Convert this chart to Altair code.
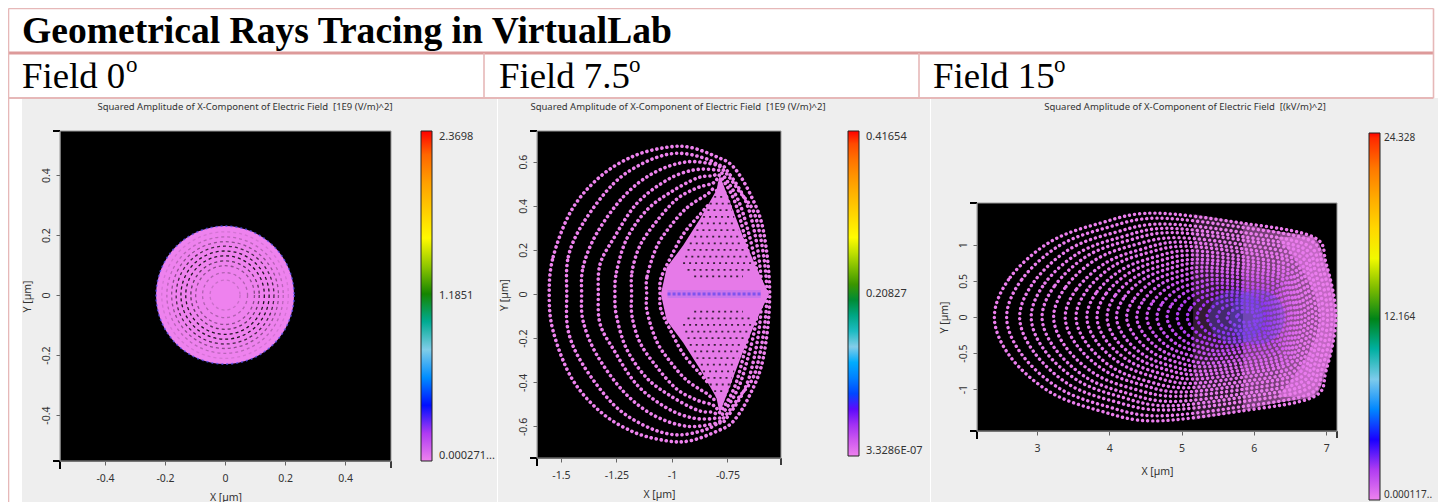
import altair as alt
import pandas as pd

W, H = 1430, 494
SANS = "Noto Sans"
SERIF = "Liberation Serif"
PINK = "#e6b8b8"
PINK_DARK = "#dd9a9a"
VIOLET = "#e67ae8"

HEADING = "Geometrical Rays Tracing in VirtualLab"
FIELD_LABELS = ["Field 0", "Field 7.5", "Field 15"]
TITLES = [
    "Squared Amplitude of X-Component of Electric Field \u00a0[1E9 (V/m)^2]",
    "Squared Amplitude of X-Component of Electric Field \u00a0[1E9 (V/m)^2]",
    "Squared Amplitude of X-Component of Electric Field \u00a0[(kV/m)^2]",
]
STOP_COLORS = ["violet", "blue", "skyblue", "green", "yellow", "orange", "red"]

# ---- panel 1 -------------------------------------------------------------
P1_XDOM = [-0.55, 0.553]
P1_YDOM = [-0.553, 0.547]
P1_TICKS = [-0.4, -0.2, 0, 0.2, 0.4]
P1_STOPS = [0.000271, 0.3952, 0.7901, 1.1851, 1.5800, 1.9749, 2.3698]
P1_LEGEND = [0.000271, 1.1851, 2.3698]
P1_DISC_R = 0.23
P1_RINGS_R = [0.05, 0.075, 0.098, 0.114, 0.131, 0.147, 0.163, 0.178, 0.194, 0.211]
P1_RINGS_DARK = [0.15, 0.25, 0.4, 0.6, 0.85, 0.85, 0.7, 0.4, 0.22, 0.1]

# ---- panel 2: upper half of each ring, left tip to right tip -------------
P2_XDOM = [-1.608, -0.509]
P2_YDOM = [-0.743, 0.739]
P2_XTICKS = [-1.5, -1.25, -1, -0.75]
P2_YTICKS = [-0.6, -0.4, -0.2, 0, 0.2, 0.4, 0.6]
P2_STOPS = [3.3286e-07, 0.06942, 0.13885, 0.20827, 0.27769, 0.34712, 0.41654]
P2_LEGEND = [3.3286e-07, 0.20827, 0.41654]
P2_RING_X = [
    [-1.553, -1.535, -1.452, -1.324, -1.174, -1.024, -0.919, -0.799, -0.724, -0.649, -0.589, -0.56],
    [-1.474, -1.467, -1.40, -1.264, -1.13, -0.995, -0.874, -0.784, -0.70, -0.619, -0.573],
    [-1.407, -1.40, -1.339, -1.219, -1.085, -0.934, -0.799, -0.754, -0.649, -0.596],
    [-1.332, -1.324, -1.264, -1.159, -1.024, -0.904, -0.80, -0.77, -0.68, -0.61],
    [-1.257, -1.25, -1.204, -1.114, -1.009, -0.889, -0.82, -0.78, -0.70, -0.635],
    [-1.182, -1.18, -1.144, -1.069, -0.979, -0.889, -0.82, -0.79, -0.724, -0.656],
    [-1.114, -1.112, -1.069, -1.009, -0.934, -0.844, -0.80, -0.735, -0.68],
    [-1.054, -1.05, -1.009, -0.95, -0.874, -0.82, -0.77, -0.72],
]
P2_RING_Y = [
    [0, 0.169, 0.381, 0.532, 0.625, 0.665, 0.665, 0.622, 0.577, 0.456, 0.29, 0],
    [0, 0.169, 0.322, 0.5, 0.593, 0.637, 0.622, 0.577, 0.47, 0.335, 0],
    [0, 0.124, 0.275, 0.441, 0.548, 0.599, 0.585, 0.562, 0.367, 0],
    [0, 0.135, 0.25, 0.41, 0.516, 0.562, 0.562, 0.54, 0.367, 0],
    [0, 0.10, 0.25, 0.38, 0.46, 0.525, 0.535, 0.53, 0.367, 0],
    [0, 0.10, 0.22, 0.33, 0.43, 0.48, 0.50, 0.51, 0.35, 0],
    [0, 0.08, 0.214, 0.305, 0.39, 0.45, 0.47, 0.33, 0],
    [0, 0.07, 0.16, 0.27, 0.36, 0.41, 0.36, 0],
]
P2_DIAMOND_X = [-1.05, -1.024, -0.95, -0.874, -0.80, -0.785, -0.74, -0.68, -0.62, -0.563]
P2_DIAMOND_Y = [0, 0.12, 0.22, 0.34, 0.47, 0.54, 0.42, 0.26, 0.12, 0]
P2_ROW_Y = [0.44, 0.41, 0.38, 0.35, 0.32, 0.29, 0.26, 0.23, 0.20, 0.17, 0.14, 0.11, 0.08]
P2_ROW_X1 = [-0.81, -0.83, -0.84, -0.86, -0.87, -0.89, -0.90, -0.92, -0.93, -0.94, -0.95, -0.93, -0.90]
P2_ROW_X2 = [-0.76, -0.74, -0.73, -0.72, -0.71, -0.70, -0.69, -0.68, -0.66, -0.65, -0.64, -0.65, -0.68]
P2_STRIP_X = [-1.02, -0.60]

# ---- panel 3: upper half of each ring, left tip to right tip -------------
P3_XDOM = [2.17, 7.15]
P3_YDOM = [-1.58, 1.58]
P3_XTICKS = [3, 4, 5, 6, 7]
P3_YTICKS = [-1, -0.5, 0, 0.5, 1]
P3_STOPS = [0.000117, 4.0548, 8.1094, 12.164, 16.2186, 20.2733, 24.328]
P3_LEGEND = [0.000117, 12.164, 24.328]
P3_RING_X = [
    [2.41, 2.63, 3.18, 3.87, 4.61, 5.85, 6.82, 7.00, 7.135],
    [2.58, 2.79, 3.31, 3.97, 4.67, 5.85, 6.78, 6.95, 7.08],
    [2.76, 2.96, 3.45, 4.07, 4.74, 5.86, 6.73, 6.90, 7.02],
    [2.92, 3.11, 3.58, 4.17, 4.80, 5.86, 6.69, 6.85, 6.96],
    [3.07, 3.25, 3.70, 4.26, 4.86, 5.87, 6.66, 6.80, 6.91],
    [3.23, 3.40, 3.82, 4.35, 4.92, 5.87, 6.62, 6.76, 6.86],
    [3.39, 3.55, 3.95, 4.45, 4.98, 5.88, 6.58, 6.71, 6.81],
    [3.54, 3.69, 4.06, 4.53, 5.04, 5.88, 6.54, 6.67, 6.76],
    [3.69, 3.83, 4.18, 4.62, 5.10, 5.89, 6.51, 6.62, 6.71],
    [3.83, 3.96, 4.29, 4.70, 5.15, 5.89, 6.47, 6.58, 6.66],
    [3.97, 4.09, 4.40, 4.79, 5.20, 5.89, 6.44, 6.54, 6.61],
    [4.10, 4.22, 4.50, 4.86, 5.25, 5.90, 6.40, 6.50, 6.57],
    [4.24, 4.35, 4.61, 4.95, 5.30, 5.90, 6.37, 6.46, 6.52],
    [4.38, 4.48, 4.72, 5.03, 5.36, 5.91, 6.34, 6.42, 6.48],
    [4.52, 4.61, 4.83, 5.11, 5.41, 5.91, 6.30, 6.37, 6.43],
    [4.66, 4.74, 4.94, 5.19, 5.46, 5.91, 6.27, 6.33, 6.38],
    [4.80, 4.87, 5.05, 5.27, 5.51, 5.92, 6.23, 6.29, 6.34],
    [4.94, 5.00, 5.16, 5.36, 5.57, 5.92, 6.20, 6.25, 6.29],
    [5.08, 5.13, 5.27, 5.44, 5.62, 5.93, 6.16, 6.21, 6.24],
    [5.21, 5.26, 5.37, 5.52, 5.67, 5.93, 6.13, 6.17, 6.20],
    [5.35, 5.39, 5.48, 5.60, 5.72, 5.93, 6.10, 6.13, 6.15],
    [5.49, 5.52, 5.59, 5.68, 5.78, 5.94, 6.06, 6.09, 6.10],
    [5.63, 5.65, 5.70, 5.76, 5.83, 5.94, 6.03, 6.04, 6.06],
    [5.76, 5.78, 5.81, 5.84, 5.88, 5.95, 6.00, 6.00, 6.01],
]
P3_RING_Y = [
    [0, 0.55, 1.04, 1.30, 1.44, 1.30, 1.11, 0.74, 0],
    [0, 0.52, 0.99, 1.24, 1.37, 1.24, 1.06, 0.70, 0],
    [0, 0.49, 0.94, 1.17, 1.29, 1.17, 1.00, 0.67, 0],
    [0, 0.47, 0.89, 1.11, 1.23, 1.11, 0.95, 0.63, 0],
    [0, 0.44, 0.85, 1.06, 1.17, 1.06, 0.90, 0.60, 0],
    [0, 0.42, 0.80, 1.00, 1.10, 1.00, 0.85, 0.57, 0],
    [0, 0.39, 0.75, 0.94, 1.04, 0.94, 0.80, 0.54, 0],
    [0, 0.37, 0.71, 0.89, 0.98, 0.89, 0.76, 0.50, 0],
    [0, 0.35, 0.66, 0.83, 0.92, 0.83, 0.71, 0.47, 0],
    [0, 0.33, 0.62, 0.78, 0.86, 0.78, 0.66, 0.44, 0],
    [0, 0.31, 0.58, 0.73, 0.80, 0.73, 0.62, 0.41, 0],
    [0, 0.29, 0.54, 0.68, 0.75, 0.68, 0.58, 0.39, 0],
    [0, 0.26, 0.50, 0.63, 0.69, 0.63, 0.54, 0.36, 0],
    [0, 0.24, 0.46, 0.58, 0.64, 0.58, 0.49, 0.33, 0],
    [0, 0.22, 0.42, 0.53, 0.58, 0.53, 0.45, 0.30, 0],
    [0, 0.20, 0.38, 0.47, 0.52, 0.47, 0.40, 0.27, 0],
    [0, 0.18, 0.34, 0.42, 0.47, 0.42, 0.36, 0.24, 0],
    [0, 0.16, 0.30, 0.37, 0.41, 0.37, 0.32, 0.21, 0],
    [0, 0.13, 0.26, 0.32, 0.35, 0.32, 0.27, 0.18, 0],
    [0, 0.11, 0.22, 0.27, 0.30, 0.27, 0.23, 0.15, 0],
    [0, 0.09, 0.18, 0.22, 0.24, 0.22, 0.19, 0.13, 0],
    [0, 0.07, 0.14, 0.17, 0.19, 0.17, 0.14, 0.10, 0],
    [0, 0.05, 0.09, 0.12, 0.13, 0.12, 0.10, 0.07, 0],
    [0, 0.03, 0.05, 0.07, 0.07, 0.07, 0.06, 0.04, 0],
]
P3_RING_LEVEL = [0.1, 0.1, 0.1, 0.15, 0.2, 0.2, 0.3, 0.3, 0.4, 0.5, 0.6, 0.7,
                 0.8, 1.0, 1.2, 1.4, 1.6, 1.9, 2.1, 2.3, 2.5, 2.4, 2.2, 2.2]
# envelope of the dense right part, and where each denser band begins
P3_ENV_X = [4.30, 4.61, 5.16, 5.85, 6.36, 6.82, 7.00, 7.12, 7.135]
P3_ENV_Y = [1.36, 1.435, 1.426, 1.30, 1.18, 1.11, 0.74, 0.185, 0.02]
P3_BAND_FROM = [4.7, 5.2, 5.6, 6.3]
P3_LOBE_Y = [0, 0.3, 0.6, 0.9, 1.11]
P3_LOBE_X1 = [6.92, 6.85, 6.70, 6.50, 6.32]
P3_LOBE_X2 = [7.135, 7.10, 7.04, 6.92, 6.82]
P3_GLOW_X = [5.75, 6.05]

TICK_TEXT = "'' + datum.value"


def ring_table(xs, ys, levels):
    rows = []
    for r, (rx, ry) in enumerate(zip(xs, ys)):
        n = len(rx)
        for i in range(n):
            rows.append({"ring": r, "v": i, "x": rx[i], "y": ry[i], "level": levels[r]})
        for i in range(n - 2, 0, -1):
            rows.append({"ring": r, "v": 2 * n - i, "x": rx[i], "y": -ry[i], "level": levels[r]})
    return pd.DataFrame(rows)


def x_axis(offset, values, title_pad):
    return alt.Axis(orient="bottom", offset=offset, values=values, title="X [µm]", labelExpr=TICK_TEXT,
                    labelFont=SANS, labelFontSize=10.5, labelColor="#333", labelPadding=8,
                    titleFont=SANS, titleFontSize=10.5, titleFontWeight="normal", titleColor="#333",
                    titlePadding=title_pad, tickColor="#666", tickSize=4, domainColor="#777",
                    grid=False, labelOverlap=False, labelFlush=False, zindex=1)


def y_axis(offset, values):
    return alt.Axis(orient="left", offset=offset, values=values, title="Y [µm]", labelExpr=TICK_TEXT,
                    labelFont=SANS, labelFontSize=10.5, labelColor="#333", labelPadding=5,
                    labelAngle=270, labelAlign="center", labelBaseline="bottom",
                    titleFont=SANS, titleFontSize=10.5, titleFontWeight="normal", titleColor="#333",
                    titlePadding=9, tickColor="#666", tickSize=4, domainColor="#777",
                    grid=False, labelOverlap=False, labelFlush=False, zindex=1)


def legend(x, y, length, low_text, values, font=11, offset=7):
    return alt.Legend(orient="none", legendX=x, legendY=y, title=None, gradientLength=length,
                      gradientThickness=11, gradientStrokeColor="#222", gradientStrokeWidth=1,
                      labelFont=SANS, labelFontSize=font, labelColor="#333", labelOffset=offset,
                      labelOverlap=False, values=values,
                      labelExpr="datum.value < 0.001 ? '%s' : format(datum.value, '.5g')" % low_text)


def backdrop(xdom, ydom, xs, ys):
    df = pd.DataFrame({"a": [xdom[0]], "b": [xdom[1]], "c": [ydom[0]], "d": [ydom[1]]})
    return alt.Chart(df).mark_rect(color="black", stroke="#999", strokeWidth=1).encode(
        x=alt.X("a:Q", scale=xs, axis=None), x2="b:Q",
        y=alt.Y("c:Q", scale=ys, axis=None), y2="d:Q")


def axis_holder(xdom, ydom, xs, ys, xa, ya):
    df = pd.DataFrame({"a": xdom, "c": ydom})
    return alt.Chart(df).mark_point(opacity=0).encode(
        x=alt.X("a:Q", scale=xs, axis=xa), y=alt.Y("c:Q", scale=ys, axis=ya))


def frame_mark(x1, x2, y1, y2, color):
    return alt.Chart(alt.Data(values=[{}])).mark_rect(color=color).encode(
        x=alt.value(x1), x2=alt.value(x2), y=alt.value(y1), y2=alt.value(y2))


def line_mark(x1, x2, y1, y2, width=1.6, color=PINK):
    return alt.Chart(alt.Data(values=[{}])).mark_rule(color=color, strokeWidth=width).encode(
        x=alt.value(x1), x2=alt.value(x2), y=alt.value(y1), y2=alt.value(y2))


def label(text, x, y, font, size, weight="normal", color="black", align="left"):
    return alt.Chart(alt.Data(values=[{}])).mark_text(
        text=text, font=font, fontSize=size, fontWeight=weight, color=color, align=align,
        baseline="alphabetic").encode(x=alt.value(x), y=alt.value(y))


def corner_marks(left, right, top, bottom):
    return [
        line_mark(left - 7, left, top, top, 2, "black"),
        line_mark(left - 7, left, bottom, bottom, 2, "black"),
        line_mark(left, left, bottom, bottom + 8, 2, "black"),
        line_mark(right, right, bottom, bottom + 7, 1.5, "black"),
    ]


# ---- page frame ----------------------------------------------------------
frame = [
    frame_mark(14, 489, 90, H, "#eeeeee"),
    frame_mark(490, 922, 90, H, "#eeeeee"),
    frame_mark(923, W, 90, H, "#eeeeee"),
    line_mark(0.5, 1425.5, 0.5, 0.5),
    line_mark(0.5, 1425.5, 45, 45, 3.2, PINK_DARK),
    line_mark(0.5, 1425.5, 90, 90, 1.8),
    line_mark(0.5, 0.5, 0.5, H),
    line_mark(1425.5, 1425.5, 0.5, 90),
    line_mark(476, 476, 45, 90),
    line_mark(911, 911, 45, 90),
    label(HEADING, 14, 35, SERIF, 37.6, "bold"),
    label(FIELD_LABELS[0], 14, 80, SERIF, 36.8),
    label("o", 118, 64, SERIF, 23),
    label(FIELD_LABELS[1], 491, 80, SERIF, 36.8),
    label("o", 621, 64, SERIF, 23),
    label(FIELD_LABELS[2], 925, 80, SERIF, 36.8),
    label("o", 1046, 64, SERIF, 23),
    label(TITLES[0], 237, 102, SANS, 9.5, color="#333", align="center"),
    label(TITLES[1], 670, 102, SANS, 9.5, color="#333", align="center"),
    label(TITLES[2], 1177, 102, SANS, 9.5, color="#333", align="center"),
]
frame += corner_marks(52, 383, 123, 453)
frame += corner_marks(529, 773, 123, 450)
frame += corner_marks(969, 1329, 195, 423)

# ---- panel 1 -------------------------------------------------------------
p1x = alt.Scale(domain=P1_XDOM, range=[52, 383])
p1y = alt.Scale(domain=P1_YDOM, range=[453, 123])
p1c = alt.Scale(domain=P1_STOPS, range=STOP_COLORS)
p1s = alt.Scale(type="pow", exponent=2, domain=[0, 0.55], range=[0, 108900])
disc = pd.DataFrame({"x": [0.0], "y": [0.0], "r": [P1_DISC_R], "level": [P1_STOPS[0]]})
rings1 = pd.DataFrame({"x": 0.0, "y": 0.0, "r": P1_RINGS_R, "dark": P1_RINGS_DARK})
panel1 = alt.layer(
    backdrop(P1_XDOM, P1_YDOM, p1x, p1y),
    alt.Chart(disc).mark_point(filled=True, opacity=1).encode(
        x=alt.X("x:Q", scale=p1x, axis=None),
        y=alt.Y("y:Q", scale=p1y, axis=None),
        size=alt.Size("r:Q", scale=p1s, legend=None),
        color=alt.Color("level:Q", scale=p1c, legend=legend(413, 123, 330, "0.000271...", P1_LEGEND))),
    alt.Chart(disc).mark_point(filled=False, stroke="#5a50f0", strokeWidth=1.6, strokeDash=[2, 3], opacity=0.8).encode(
        x=alt.X("x:Q", scale=p1x, axis=None), y=alt.Y("y:Q", scale=p1y, axis=None),
        size=alt.Size("r:Q", scale=p1s, legend=None)),
    alt.Chart(rings1).mark_point(filled=False, stroke="black", strokeWidth=1.3, strokeDash=[3, 3]).encode(
        x=alt.X("x:Q", scale=p1x, axis=None), y=alt.Y("y:Q", scale=p1y, axis=None),
        size=alt.Size("r:Q", scale=p1s, legend=None),
        opacity=alt.Opacity("dark:Q", scale=None)),
)
axes1 = axis_holder(P1_XDOM, P1_YDOM, p1x, p1y, x_axis(453 - H, P1_TICKS, 9), y_axis(-52, P1_TICKS))

# ---- panel 2 -------------------------------------------------------------
p2x = alt.Scale(domain=P2_XDOM, range=[529, 773])
p2y = alt.Scale(domain=P2_YDOM, range=[450, 123])
p2c = alt.Scale(domain=P2_STOPS, range=STOP_COLORS)
rings2 = ring_table(P2_RING_X, P2_RING_Y, [P2_STOPS[0]] * len(P2_RING_X))
diamond = pd.DataFrame({"x": P2_DIAMOND_X, "y": P2_DIAMOND_Y, "y0": [-v for v in P2_DIAMOND_Y]})
rows2 = pd.DataFrame({"y": P2_ROW_Y + [-v for v in P2_ROW_Y],
                      "x1": P2_ROW_X1 + P2_ROW_X1, "x2": P2_ROW_X2 + P2_ROW_X2})
strip = pd.DataFrame({"x1": [P2_STRIP_X[0]], "x2": [P2_STRIP_X[1]], "y": [0.0]})
panel2 = alt.layer(
    backdrop(P2_XDOM, P2_YDOM, p2x, p2y),
    alt.Chart(rings2).mark_line(strokeCap="round", strokeDash=[0.1, 5.0], strokeWidth=3.6,
                                interpolate="cardinal-closed").encode(
        x=alt.X("x:Q", scale=p2x, axis=None),
        y=alt.Y("y:Q", scale=p2y, axis=None),
        detail="ring:N", order="v:Q",
        color=alt.Color("level:Q", scale=p2c, legend=legend(840, 123, 325, "3.3286E-07", P2_LEGEND))),
    alt.Chart(diamond).mark_area(color=VIOLET).encode(
        x=alt.X("x:Q", scale=p2x, axis=None), y=alt.Y("y:Q", scale=p2y, axis=None), y2="y0:Q"),
    alt.Chart(rows2).mark_rule(color="black", strokeWidth=1.8, strokeDash=[2, 4], opacity=0.75).encode(
        x=alt.X("x1:Q", scale=p2x, axis=None), x2="x2:Q", y=alt.Y("y:Q", scale=p2y, axis=None)),
    alt.Chart(strip).mark_rule(color="#9a6cf0", strokeWidth=8, opacity=0.35).encode(
        x=alt.X("x1:Q", scale=p2x, axis=None), x2="x2:Q", y=alt.Y("y:Q", scale=p2y, axis=None)),
    alt.Chart(strip).mark_rule(color="#4a3cf0", strokeWidth=3, strokeDash=[3, 2], opacity=0.6).encode(
        x=alt.X("x1:Q", scale=p2x, axis=None), x2="x2:Q", y=alt.Y("y:Q", scale=p2y, axis=None)),
)
axes2 = axis_holder(P2_XDOM, P2_YDOM, p2x, p2y, x_axis(450 - H, P2_XTICKS, 9), y_axis(-529, P2_YTICKS))

# ---- panel 3 -------------------------------------------------------------
p3x = alt.Scale(domain=P3_XDOM, range=[969, 1329])
p3y = alt.Scale(domain=P3_YDOM, range=[423, 195])
p3c = alt.Scale(domain=P3_STOPS, range=STOP_COLORS)
rings3 = ring_table(P3_RING_X, P3_RING_Y, P3_RING_LEVEL)
envelope = pd.DataFrame({"x": P3_ENV_X, "y": P3_ENV_Y, "y0": [-v for v in P3_ENV_Y]})
lobe = pd.DataFrame({"y": [-v for v in P3_LOBE_Y[::-1]] + P3_LOBE_Y,
                     "x1": P3_LOBE_X1[::-1] + P3_LOBE_X1, "x2": P3_LOBE_X2[::-1] + P3_LOBE_X2})
glow = pd.DataFrame({"x": P3_GLOW_X, "y": [0.0, 0.0]})
bands = [
    alt.Chart(envelope).transform_filter(alt.datum.x >= start).mark_area(
        color=VIOLET, opacity=0.22, interpolate="monotone").encode(
        x=alt.X("x:Q", scale=p3x, axis=None), y=alt.Y("y:Q", scale=p3y, axis=None), y2="y0:Q")
    for start in P3_BAND_FROM
]
panel3 = alt.layer(
    backdrop(P3_XDOM, P3_YDOM, p3x, p3y),
    *bands,
    alt.Chart(lobe).mark_area(color=VIOLET, orient="horizontal", opacity=0.6).encode(
        y=alt.Y("y:Q", scale=p3y, axis=None), x=alt.X("x1:Q", scale=p3x, axis=None), x2="x2:Q"),
    alt.Chart(rings3).mark_line(strokeCap="round", strokeDash=[0.1, 5.0], strokeWidth=3.4,
                                interpolate="cardinal-closed").encode(
        x=alt.X("x:Q", scale=p3x, axis=None),
        y=alt.Y("y:Q", scale=p3y, axis=None),
        detail="ring:N", order="v:Q",
        color=alt.Color("level:Q", scale=p3c,
                        legend=legend(1361, 125, 367, "0.000117..", P3_LEGEND, font=10, offset=4))),
    alt.Chart(glow).mark_point(filled=True, size=3000, color="#6a4ff0", opacity=0.3).encode(
        x=alt.X("x:Q", scale=p3x, axis=None), y=alt.Y("y:Q", scale=p3y, axis=None)),
)
axes3 = axis_holder(P3_XDOM, P3_YDOM, p3x, p3y, x_axis(423 - H, P3_XTICKS, 13), y_axis(-969, P3_YTICKS))

chart = alt.layer(*frame, panel1, axes1, panel2, axes2, panel3, axes3).resolve_scale(
    x="independent", y="independent", color="independent", size="independent"
).properties(
    width=W, height=H, padding=0, autosize=alt.AutoSizeParams(type="none"), background="white"
).configure_view(stroke=None)

chart.save("out.html", embed_options={"renderer": "svg", "actions": False})
